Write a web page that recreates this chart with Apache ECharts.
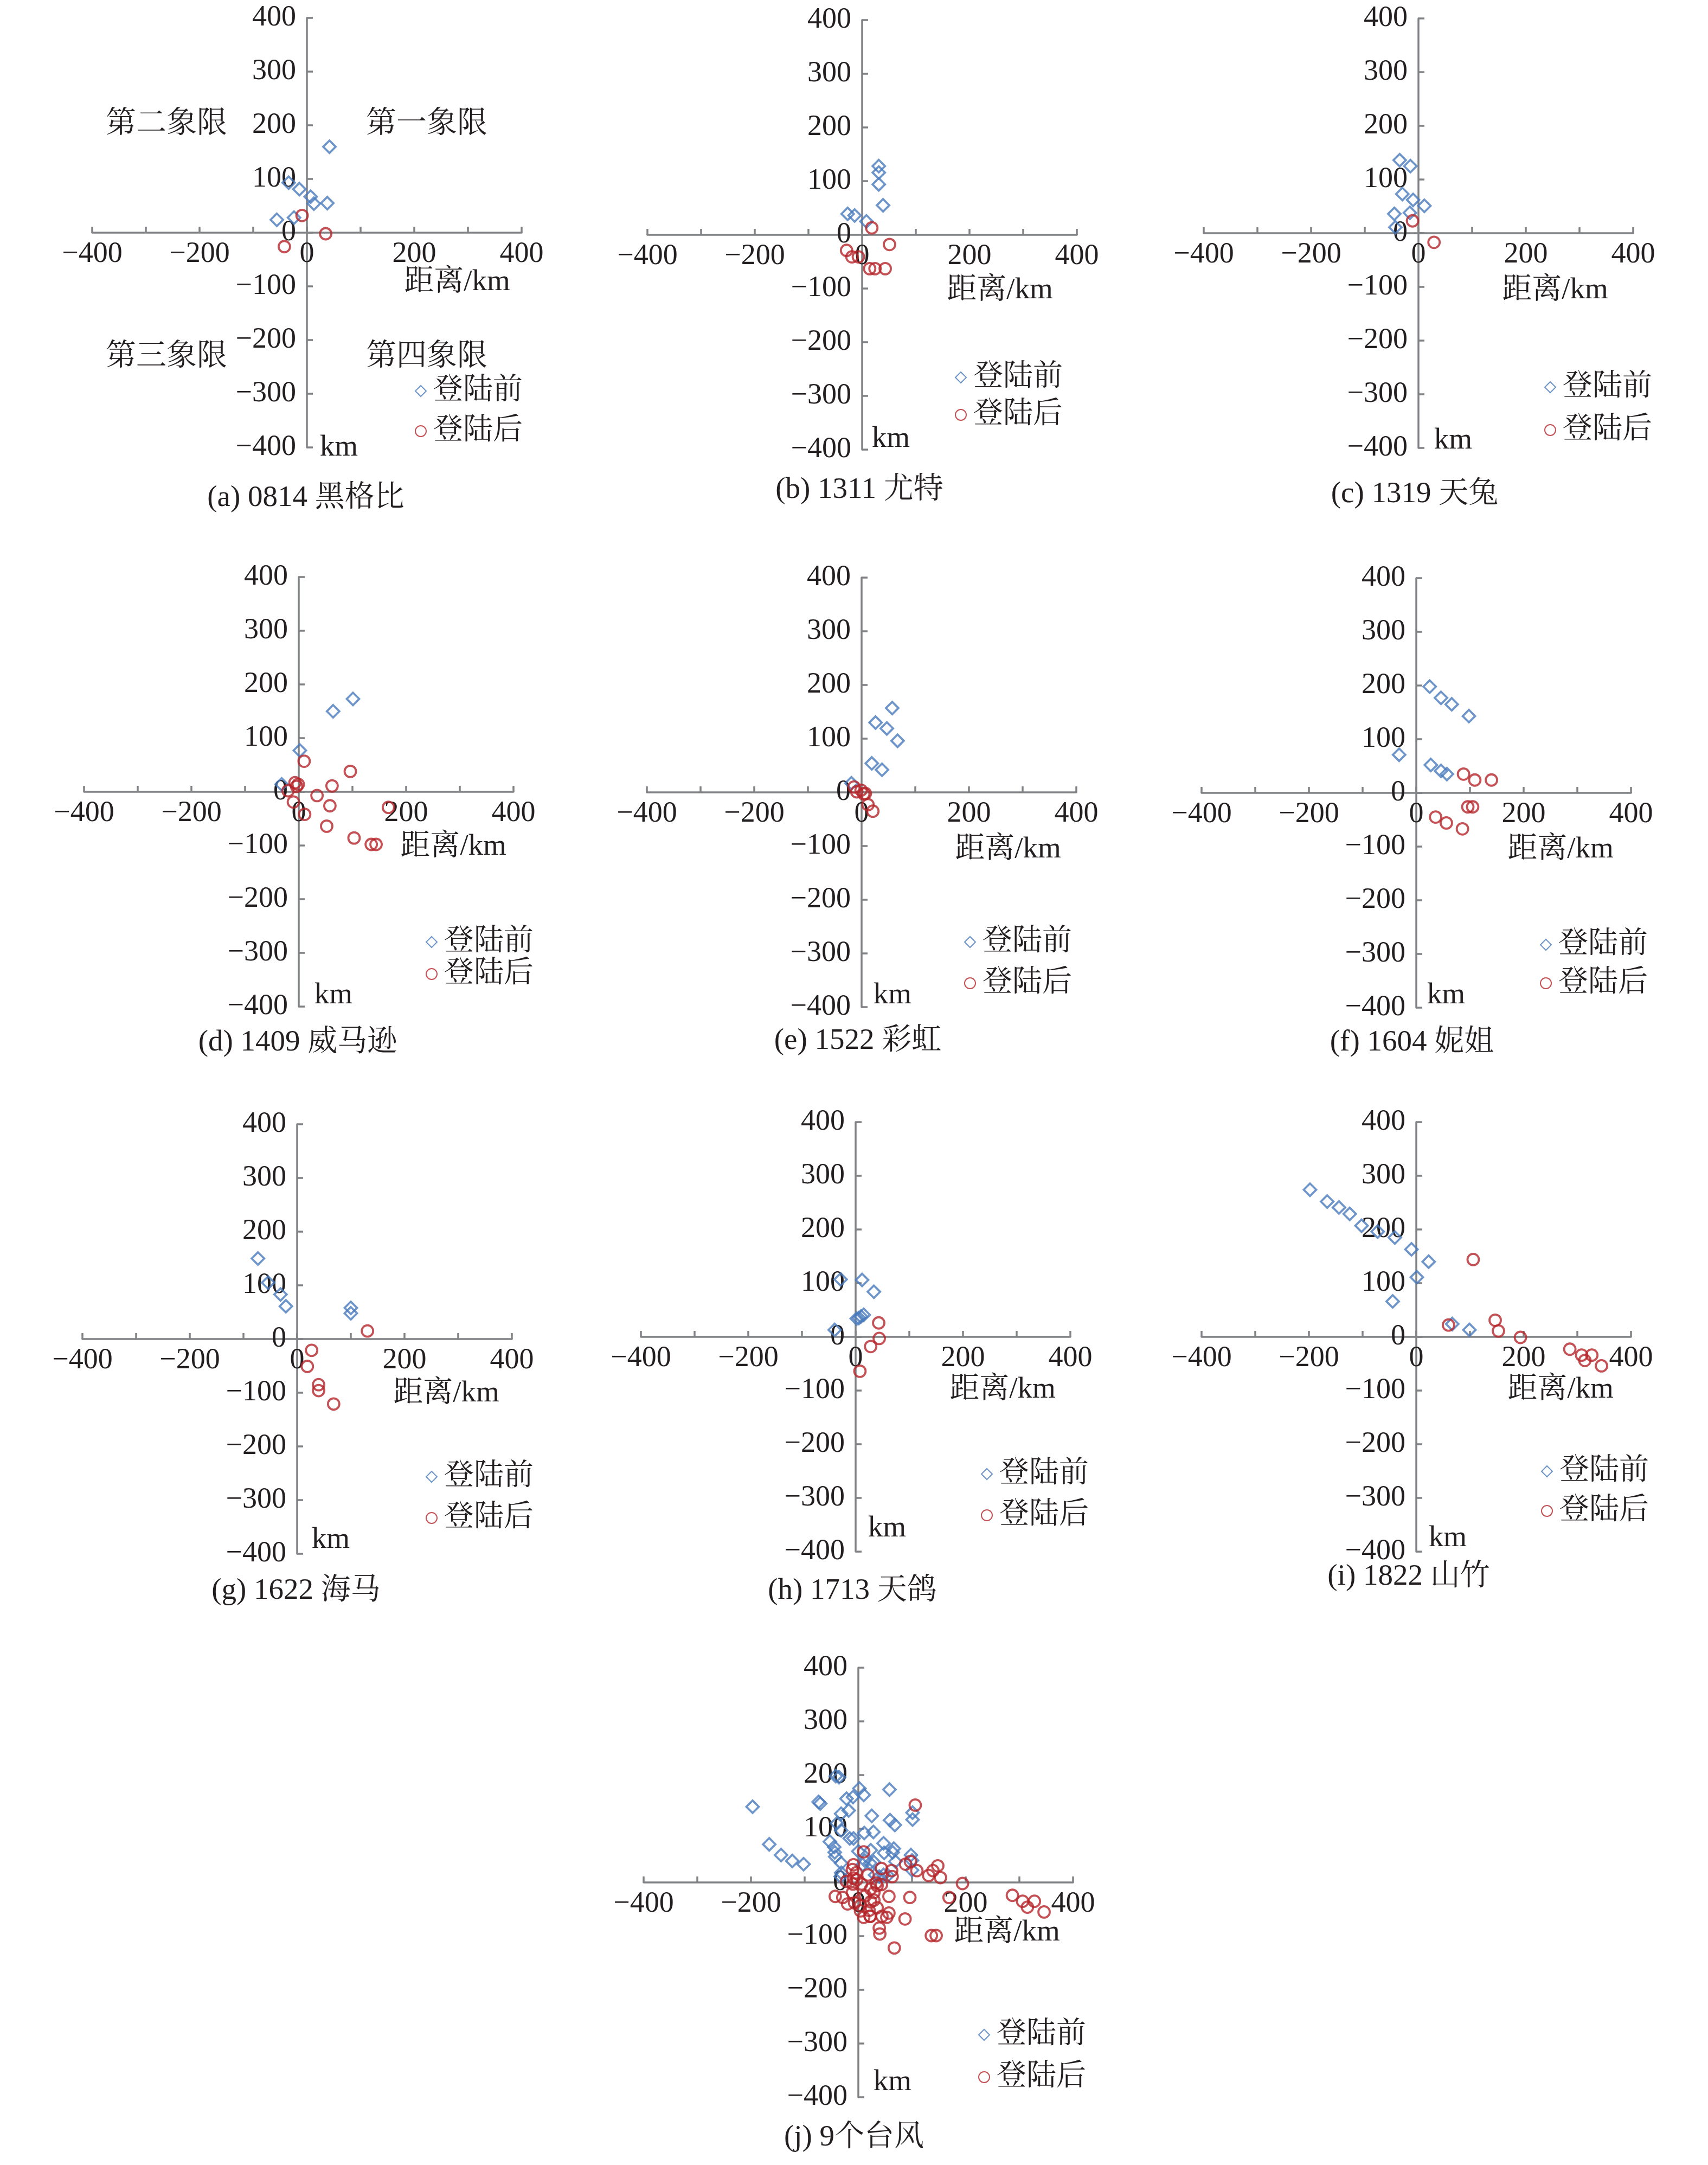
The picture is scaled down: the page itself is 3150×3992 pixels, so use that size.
<!DOCTYPE html>
<html>
<head>
<meta charset="utf-8">
<script src="https://cdn.jsdelivr.net/npm/echarts@6/dist/echarts.min.js"></script>
<style>html,body{margin:0;padding:0;background:#fff;}#chart{width:3150px;height:3992px;}</style>
</head>
<body>
<div id="chart"></div>
<script>
// ---------- data ----------
const captions = ['(a) 0814 黑格比','(b) 1311 尤特','(c) 1319 天兔','(d) 1409 威马逊','(e) 1522 彩虹','(f) 1604 妮姐','(g) 1622 海马','(h) 1713 天鸽','(i) 1822 山竹','(j) 9个台风'];
const seriesNames = ['登陆前','登陆后'];
const quadrantLabels = ['第一象限','第二象限','第三象限','第四象限'];
const xAxisName = '距离/km';
const yAxisName = 'km';

const a_before = [[42,160],[-34,93],[-14,81],[7,67],[13,54],[38,55],[-56,24],[-24,28]];
const a_after  = [[-9,32],[35,-2],[-42,-26]];
const b_before = [[31,128],[31,116],[31,94],[39,55],[-27,39],[-14,36],[8,25]];
const b_after  = [[18,13],[51,-18],[-29,-29],[-19,-41],[-7,-41],[14,-63],[24,-63],[43,-63]];
const c_before = [[-35,136],[-15,125],[-30,73],[-10,62],[11,51],[-45,36],[-16,38],[-43,11]];
const c_after  = [[-11,23],[29,-17]];
const d_before = [[101,173],[64,150],[2,77],[-32,14]];
const d_after  = [[10,57],[96,38],[-7,17],[-1,14],[-4,10],[-20,2],[62,11],[34,-7],[-10,-19],[58,-26],[11,-42],[52,-64],[167,-29],[103,-86],[135,-98],[144,-98]];
const e_before = [[57,157],[26,130],[47,119],[67,96],[19,54],[38,42],[-19,17]];
const e_after  = [[-14,10],[-9,1],[-1,4],[4,-3],[7,-2],[12,-23],[21,-35]];
const f_before = [[25,198],[46,177],[66,165],[98,143],[-32,71],[27,52],[46,41],[57,35]];
const f_after  = [[88,35],[109,24],[140,24],[96,-26],[105,-26],[36,-45],[56,-56],[86,-67]];
const g_before = [[-73,150],[-54,105],[-31,83],[-21,61],[100,58],[100,48]];
const g_after  = [[131,15],[27,-21],[19,-51],[40,-85],[40,-96],[68,-121]];
const h_before = [[-28,107],[12,106],[34,84],[2,34],[6,35],[10,38],[15,41],[-39,13]];
const h_after  = [[43,26],[44,-3],[28,-18],[8,-64]];
const i_before = [[-198,274],[-166,252],[-144,241],[-124,229],[-102,207],[-72,196],[-40,185],[-9,163],[23,140],[1,111],[-44,66],[67,24],[99,13]];
const i_after  = [[106,144],[60,22],[147,31],[153,11],[194,-1],[286,-23],[308,-34],[314,-44],[327,-34],[345,-54]];
const j_before = [[-42,198],[-36,196],[2,175],[58,173],[10,163],[-10,159],[-22,156],[-197,141],[-74,150],[-71,147],[-18,134],[-32,128],[25,124],[101,130],[101,117],[59,116],[68,107],[-40,110],[-32,97],[11,92],[28,94],[-16,82],[-9,82],[-53,76],[-166,71],[-45,66],[47,73],[66,63],[64,56],[0,58],[23,60],[-44,56],[-144,51],[48,55],[98,51],[-43,48],[-123,40],[-102,34],[-32,36],[12,41],[22,36],[29,38],[69,39],[100,41],[8,33],[100,23],[-32,18],[-33,11],[31,14],[39,11],[47,14],[55,13]];
const j_after  = [[106,144],[10,57],[88,34],[97,39],[109,22],[131,13],[139,22],[148,31],[153,9],[194,-2],[287,-24],[306,-35],[315,-46],[328,-35],[346,-55],[169,-28],[96,-28],[87,-68],[136,-99],[145,-99],[67,-122],[39,-85],[40,-96],[57,-26],[57,-57],[53,-65],[44,-63],[35,-47],[22,-63],[10,-65],[23,-36],[13,-25],[29,-19],[35,-6],[43,-4],[33,-1],[43,26],[62,22],[63,11],[18,14],[6,-3],[-3,5],[-9,8],[-4,18],[-11,24],[-9,33],[-22,2],[-10,-3],[-11,-19],[-43,-26],[-29,-28],[-20,-40],[-7,-38],[4,-43],[20,-52],[29,-33],[23,-12],[4,-53],[22,-63]];

const panelData = [
  [a_before,a_after],[b_before,b_after],[c_before,c_after],
  [d_before,d_after],[e_before,e_after],[f_before,f_after],
  [g_before,g_after],[h_before,h_after],[i_before,i_after],
  [j_before,j_after]
];

// ---------- layout (pixel positions, styling) ----------
const layout = [
 {ox:566, oy:429, dist:[843,521], km:[625,826], cap:[564,919], leg:[775,721,74]},
 {ox:1590,oy:433, dist:[1844,536],km:[1643,810],cap:[1585,904],leg:[1771,696,69]},
 {ox:2616,oy:430, dist:[2868,536],km:[2680,813],cap:[2609,912],leg:[2858,714,79]},
 {ox:551, oy:1460,dist:[836,1562],km:[615,1836],cap:[549,1923],leg:[795,1737,59]},
 {ox:1589,oy:1461,dist:[1859,1567],km:[1646,1836],cap:[1582,1920],leg:[1788,1737,76]},
 {ox:2612,oy:1462,dist:[2878,1567],km:[2667,1836],cap:[2604,1923],leg:[2850,1742,71]},
 {ox:548, oy:2469,dist:[823,2570],km:[610,2840],cap:[546,2934],leg:[795,2723,76]},
 {ox:1578,oy:2465,dist:[1849,2563],km:[1636,2819],cap:[1572,2934],leg:[1819,2718,76]},
 {ox:2612,oy:2465,dist:[2878,2563],km:[2670,2837],cap:[2598,2908],leg:[2852,2713,73]},
 {ox:1583,oy:3471,dist:[1857,3564],km:[1646,3840],cap:[1575,3942],leg:[1814,3752,78]}
];
const quadPos = [[787,229],[307,229],[307,658],[787,658]];

const HALF = 396;
const FONT = "'Liberation Serif','Times New Roman','Noto Serif CJK SC','Noto Sans CJK SC',serif";
const TXT = '#231f20';
const AXIS = '#808285';
const BLUE = '#4a7bbd';
const RED = '#b5262b';
const FS = 54;

function fmt(v){ return String(v).replace('-', '\u2212'); }

const grid=[], xAxis=[], yAxis=[], series=[], legend=[], graphic=[];
layout.forEach((L,i)=>{
  grid.push({left:L.ox-HALF, top:L.oy-HALF, width:2*HALF, height:2*HALF, containLabel:false});
  xAxis.push({
    type:'value', gridIndex:i, min:-400, max:400, interval:100,
    position:'bottom', offset:-HALF,
    splitLine:{show:false},
    axisLine:{onZero:false, lineStyle:{color:AXIS, width:3.5}},
    axisTick:{inside:true, length:11, lineStyle:{color:AXIS, width:3.5}},
    axisLabel:{margin:13, fontSize:FS, fontFamily:FONT, color:TXT,
      formatter:v=> (v%200===0 ? fmt(v) : '')}
  });
  yAxis.push({
    type:'value', gridIndex:i, min:-400, max:400, interval:100,
    position:'left', offset:-HALF,
    splitLine:{show:false},
    axisLine:{onZero:false, lineStyle:{color:AXIS, width:3.5}},
    axisTick:{inside:true, length:11, lineStyle:{color:AXIS, width:3.5}},
    axisLabel:{margin:20, fontSize:FS, fontFamily:FONT, color:TXT, formatter:v=>fmt(v)}
  });
  series.push({
    name:seriesNames[0], type:'scatter', xAxisIndex:i, yAxisIndex:i,
    symbol:'diamond', symbolSize:23,
    itemStyle:{color:'rgba(255,255,255,0)', borderColor:BLUE, borderWidth:3.8},
    data:panelData[i][0]
  });
  series.push({
    name:seriesNames[1], type:'scatter', xAxisIndex:i, yAxisIndex:i,
    symbol:'circle', symbolSize:21,
    itemStyle:{color:'rgba(255,255,255,0)', borderColor:RED, borderWidth:3.8},
    data:panelData[i][1]
  });
  legend.push({
    orient:'vertical', left:L.leg[0]-10, top:L.leg[1]-28, padding:0,
    itemWidth:20, itemHeight:20, itemGap:L.leg[2]-56,
    textStyle:{fontSize:55, fontFamily:FONT, color:TXT, lineHeight:56, padding:[0,0,0,8]},
    data:[{name:seriesNames[0], icon:'diamond'},{name:seriesNames[1], icon:'circle'}]
  });
  const t = (txt,p,size)=>({type:'text', x:p[0], y:p[1], silent:true,
    style:{text:txt, fontSize:size, fontFamily:FONT, fill:TXT,
      align:'center', verticalAlign:'middle', textAlign:'center', textVerticalAlign:'middle'}});
  graphic.push(t(xAxisName, L.dist, 55));
  graphic.push(t(yAxisName, L.km, 55));
  graphic.push(t(captions[i], L.cap, 55));
});
quadrantLabels.forEach((q,k)=>{
  graphic.push({type:'text', x:quadPos[k][0], y:quadPos[k][1], silent:true,
    style:{text:q, fontSize:56, fontFamily:FONT, fill:TXT,
      align:'center', verticalAlign:'middle', textAlign:'center', textVerticalAlign:'middle'}});
});

const chart = echarts.init(document.getElementById('chart'), null, {renderer:'canvas'});
chart.setOption({
  backgroundColor:'#ffffff',
  animation:false,
  grid, xAxis, yAxis, series, legend, graphic
});
</script>
</body>
</html>
